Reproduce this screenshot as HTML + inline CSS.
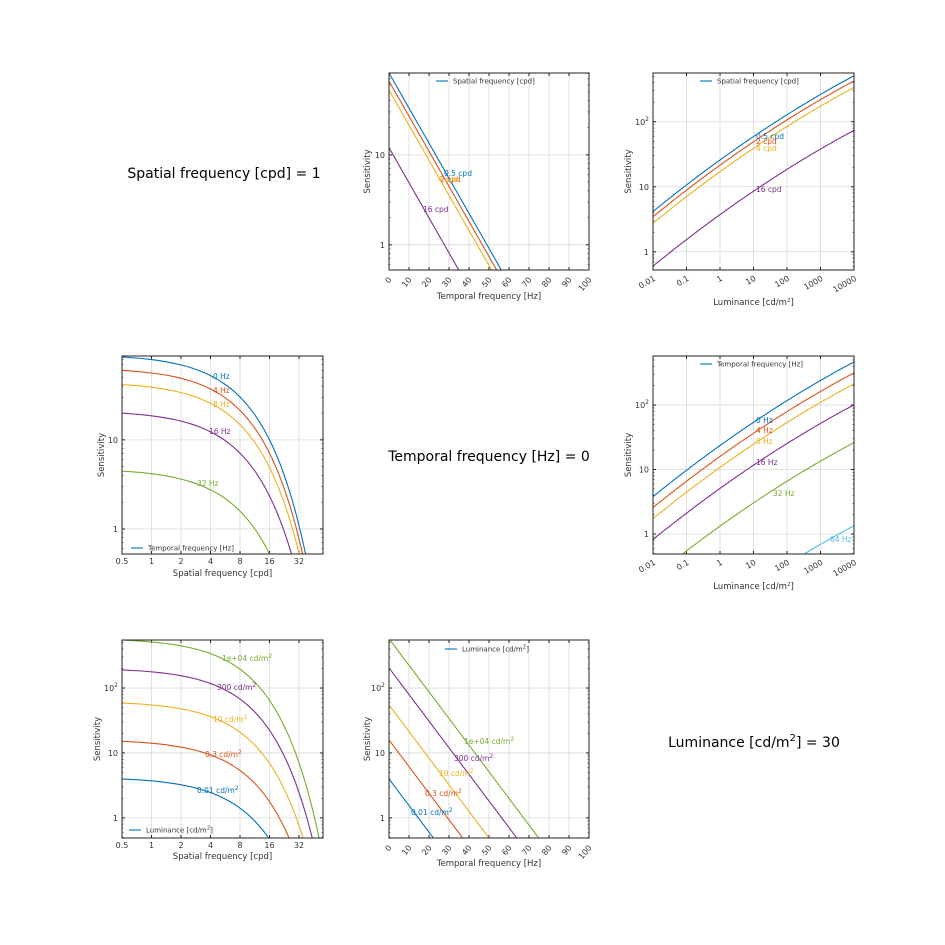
<!DOCTYPE html>
<html><head><meta charset="utf-8"><style>
html,body{margin:0;padding:0;background:#fff;overflow:hidden;width:945px;height:945px}
svg{display:block;font-family:"DejaVu Sans","Liberation Sans",sans-serif}
</style></head><body>
<svg id="s" width="945" height="945" viewBox="0 0 945 945" xmlns="http://www.w3.org/2000/svg">
<text x="224" y="178" font-size="14" text-anchor="middle" fill="#000">Spatial frequency [cpd] = 1</text>
<text x="489" y="461" font-size="14" text-anchor="middle" fill="#000">Temporal frequency [Hz] = 0</text>
<text x="754" y="747" font-size="14" text-anchor="middle" fill="#000">Luminance [cd/m<tspan dy="-6" font-size="10">2</tspan><tspan dy="6">] = 30</tspan></text>
</svg>
<script>
const S=document.getElementById('s');let out='';let cid=0;
const C={b:'#0072bd',r:'#d95319',o:'#edb120',p:'#7e2f8e',g:'#77ac30',c:'#4dbeee'};
function f(t){t+=2;return 0.42*t-0.012*t*t;}
function ax(o){
 const {x0,x1,y0,y1}=o;cid++;
 const Y=v=>y0+(o.yt-v)/(o.yt-o.yb)*(y1-y0);
 let s=`<clipPath id="c${cid}"><rect x="${x0}" y="${y0}" width="${x1-x0}" height="${y1-y0}"/></clipPath>`;
 o.xt.forEach(t=>{const x=o.X(t[0]);s+=`<line x1="${x}" y1="${y0}" x2="${x}" y2="${y1}" stroke="#d9d9d9" stroke-width="0.8"/>`;});
 o.ytk.forEach(t=>{const y=Y(t[0]);s+=`<line x1="${x0}" y1="${y}" x2="${x1}" y2="${y}" stroke="#d9d9d9" stroke-width="0.8"/>`;});
 o.xt.forEach(t=>{const x=o.X(t[0]);s+=`<line x1="${x}" y1="${y1}" x2="${x}" y2="${y1-3}" stroke="#222"/><line x1="${x}" y1="${y0}" x2="${x}" y2="${y0+3}" stroke="#222"/>`;
  if(o.rot){s+=`<text transform="translate(${x+3},${y1+10}) rotate(${-o.rot})" font-size="8" text-anchor="end" fill="#333">${t[1]}</text>`;}
  else s+=`<text x="${x}" y="${y1+10}" font-size="8" text-anchor="middle" fill="#333">${t[1]}</text>`;});
 o.ytk.forEach(t=>{const y=Y(t[0]);s+=`<line x1="${x0}" y1="${y}" x2="${x0+3}" y2="${y}" stroke="#222"/><line x1="${x1}" y1="${y}" x2="${x1-3}" y2="${y}" stroke="#222"/>`;
  s+=`<text x="${x0-4}" y="${y+3}" font-size="8" text-anchor="end" fill="#333">${t[1]}</text>`;});
 for(let d=-1;d<3;d++)for(let m=2;m<10;m++){const v=d+Math.log10(m);if(v<o.yb||v>o.yt)continue;const y=Y(v);
  s+=`<line x1="${x0}" y1="${y}" x2="${x0+1.5}" y2="${y}" stroke="#222" stroke-width="0.6"/><line x1="${x1}" y1="${y}" x2="${x1-1.5}" y2="${y}" stroke="#222" stroke-width="0.6"/>`;}
 s+=`<g clip-path="url(#c${cid})" fill="none" stroke-width="1.1">`;
 o.ser.forEach(se=>{let p=[];for(let i=0;i<=200;i++){const u=o.d0+(o.d1-o.d0)*i/200;p.push(o.X(u).toFixed(1)+','+Y(se.fn(u)).toFixed(1));}
  s+=`<polyline points="${p.join(' ')}" stroke="${se.c}"/>`;});
 s+='</g>';
 o.lab.forEach(l=>{s+=`<text x="${l[0]}" y="${l[1]}" font-size="7.5" fill="${l[3]}">${l[2]}</text>`;});
 s+=`<rect x="${x0}" y="${y0}" width="${x1-x0}" height="${y1-y0}" fill="none" stroke="#222" stroke-width="1"/>`;
 const lg=o.leg;s+=`<line x1="${lg[0]}" y1="${lg[1]}" x2="${lg[0]+12}" y2="${lg[1]}" stroke="${C.b}" stroke-width="1.1"/><text x="${lg[0]+17}" y="${lg[1]+2.5}" font-size="7" fill="#333">${lg[2]}</text>`;
 s+=`<text x="${(x0+x1)/2}" y="${o.xly}" font-size="8.5" text-anchor="middle" fill="#333">${o.xl}</text>`;
 s+=`<text transform="translate(${o.ylx},${(y0+y1)/2}) rotate(-90)" font-size="8.5" text-anchor="middle" fill="#333">Sensitivity</text>`;
 out+=s;}
const lin=(x0)=>v=>x0+v*2.0;
const linT=[0,10,20,30,40,50,60,70,80,90,100].map(v=>[v,v]);
const logX=(x0)=>t=>x0+(t+2)*33.5;
const logT=[[-2,'0.01'],[-1,'0.1'],[0,'1'],[1,'10'],[2,'100'],[3,'1000'],[4,'10000']];
const oct=(x0)=>v=>x0+Math.log2(v/0.5)*29.5;
const octT=[[0.5,'0.5'],[1,'1'],[2,'2'],[4,'4'],[8,'8'],[16,'16'],[32,'32']];
const y1T=[[0,'1'],[1,'10']];
const y2T=[[0,'1'],[1,'10'],[2,'10<tspan dy="-4" font-size="6">2</tspan>']];
const cd='cd/m<tspan dy="-3" font-size="6">2</tspan>';
const LUM='Luminance [cd/m<tspan dy="-3" font-size="5.5">2</tspan><tspan dy="3">]</tspan>';
ax({x0:389,x1:589,y0:73,y1:270,X:lin(389),xt:linT,rot:50,yt:1.91,yb:-0.28,ytk:y1T,d0:0,d1:100,
 ser:[[1.91,C.b],[1.82,C.r],[1.72,C.o],[1.08,C.p]].map(a=>({c:a[1],fn:u=>a[0]-0.039*u})),
 lab:[[444,176,'0.5 cpd',C.b],[440,182,'2 cpd',C.r],[438,182,'4 cpd',C.o],[423,212,'16 cpd',C.p]],
 leg:[436,81,'Spatial frequency [cpd]'],xl:'Temporal frequency [Hz]',xly:299,ylx:370});
ax({x0:653,x1:854,y0:73,y1:270,X:logX(653),xt:logT,rot:30,yt:2.75,yb:-0.28,ytk:y2T,d0:-2,d1:4,
 ser:[[0.62,C.b],[0.54,C.r],[0.44,C.o],[-0.22,C.p]].map(a=>({c:a[1],fn:u=>a[0]+f(u)})),
 lab:[[756,139,'0.5 cpd',C.b],[756,144,'2 cpd',C.r],[756,151,'4 cpd',C.o],[756,192,'16 cpd',C.p]],
 leg:[700,81,'Spatial frequency [cpd]'],xl:LUM,xly:305,ylx:631});
ax({x0:653,x1:854,y0:356,y1:554,X:logX(653),xt:logT,rot:30,yt:2.76,yb:-0.31,ytk:y2T,d0:-2,d1:4,
 ser:[[0.58,C.b],[0.41,C.r],[0.24,C.o],[-0.085,C.p],[-0.67,C.g],[-1.96,C.c]].map(a=>({c:a[1],fn:u=>a[0]+f(u)})),
 lab:[[756,423,'0 Hz',C.b],[756,433,'4 Hz',C.r],[756,444,'8 Hz',C.o],[756,465,'16 Hz',C.p],[773,496,'32 Hz',C.g],[830,542,'64 Hz',C.c]],
 leg:[700,364,'Temporal frequency [Hz]'],xl:LUM,xly:589,ylx:631});
ax({x0:122,x1:323,y0:356,y1:554,X:oct(122),xt:octT,rot:0,yt:1.94,yb:-0.28,ytk:y1T,d0:0.5,d1:60,
 ser:[[1.96,C.b],[1.81,C.r],[1.65,C.o],[1.33,C.p],[0.68,C.g]].map(a=>({c:a[1],fn:u=>a[0]-0.06*u})),
 lab:[[213,379,'0 Hz',C.b],[213,393,'4 Hz',C.r],[213,407,'8 Hz',C.o],[209,434,'16 Hz',C.p],[197,486,'32 Hz',C.g]],
 leg:[131,548,'Temporal frequency [Hz]'],xl:'Spatial frequency [cpd]',xly:576,ylx:104});
ax({x0:122,x1:323,y0:640,y1:838,X:oct(122),xt:octT,rot:0,yt:2.74,yb:-0.31,ytk:y2T,d0:0.5,d1:60,
 ser:[[0.63,C.b],[1.21,C.r],[1.8,C.o],[2.31,C.p],[2.77,C.g]].map(a=>({c:a[1],fn:u=>a[0]-0.06*u})),
 lab:[[197,793,'0.01 '+cd,C.b],[205,757,'0.3 '+cd,C.r],[213,722,'10 '+cd,C.o],[217,690,'300 '+cd,C.p],[222,661,'1e+04 '+cd,C.g]],
 leg:[129,830,LUM],xl:'Spatial frequency [cpd]',xly:859,ylx:100});
ax({x0:389,x1:589,y0:640,y1:838,X:lin(389),xt:linT,rot:50,yt:2.74,yb:-0.31,ytk:y2T,d0:0,d1:100,
 ser:[[0.6,C.b],[1.2,C.r],[1.74,C.o],[2.31,C.p],[2.76,C.g]].map(a=>({c:a[1],fn:u=>a[0]-0.041*u})),
 lab:[[411,815,'0.01 '+cd,C.b],[425,796,'0.3 '+cd,C.r],[439,776,'10 '+cd,C.o],[454,761,'300 '+cd,C.p],[464,744,'1e+04 '+cd,C.g]],
 leg:[445,649,LUM],xl:'Temporal frequency [Hz]',xly:866,ylx:370});
S.insertAdjacentHTML('beforeend',out);
</script>
</body></html>
